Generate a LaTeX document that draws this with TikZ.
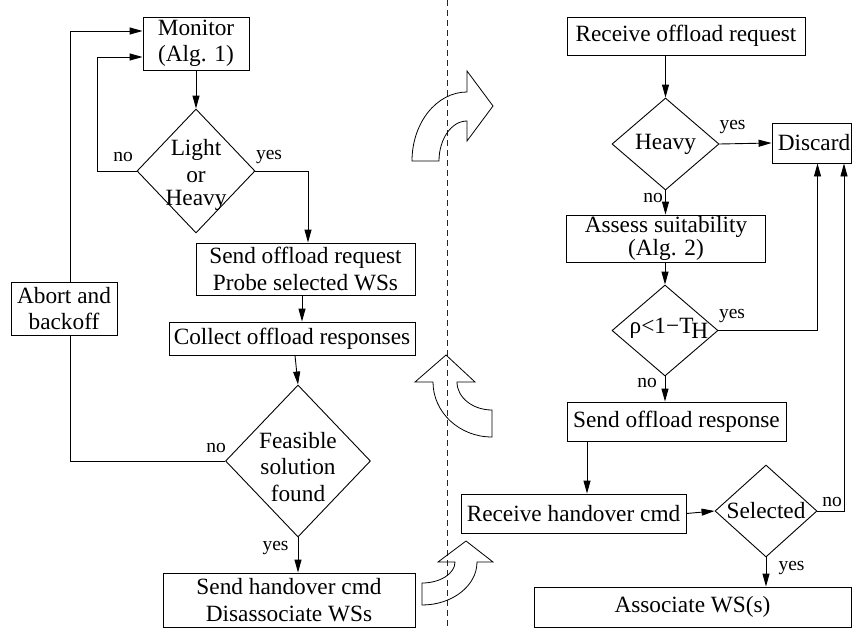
\documentclass[tikz,border=0pt]{standalone}
\usepackage{fontspec}
\setmainfont{Liberation Serif}
\usetikzlibrary{shapes.geometric,arrows.meta}
\begin{document}
\begin{tikzpicture}[x=1pt,y=-1pt,
  every node/.style={font=\fontsize{23.3}{26.5}\selectfont},
  box/.style={draw,fill=white,inner sep=0pt,align=center,line width=0.9pt},
  dia/.style={draw,diamond,inner sep=0pt,line width=0.9pt},
  lab/.style={font=\fontsize{19.5}{22}\selectfont,inner sep=0pt},
  arr/.style={line width=0.9pt,-{Triangle[length=13pt,width=7pt]}},
  ln/.style={line width=0.9pt},
  bigarrow/.style={draw,line width=0.8pt},
  sep/.style={line width=0.8pt,black!85,dash pattern=on 6pt off 4pt}]
\useasboundingbox (0,0) rectangle (852,629);

% separator
\coordinate (sepT) at (447.5,0);
\coordinate (sepB) at (447.5,629);
\draw[sep] (sepT) -- (sepB);

% helper coordinates
\coordinate (lx) at (70,0);
\coordinate (ix) at (97,0);
\coordinate (cx) at (587,0);

% ---------- left side ----------
\node[box,minimum width=106pt,minimum height=53pt] (monitor) at (196,43.5) {Monitor\\(Alg. 1)};
\node[dia,minimum width=118pt,minimum height=124pt,
      label={[align=center,yshift=-4pt]center:Light\\or\\[-3pt]Heavy}] (light) at (196,171) {};
\node[box,minimum width=219pt,minimum height=52pt] (sendreq) at (305.5,269) {Send offload request\\Probe selected WSs};
\node[box,minimum width=246pt,minimum height=33pt] (collect) at (292,338.5) {Collect offload responses};
\node[box,minimum width=106pt,minimum height=53pt] (abort) at (64,308.5) {Abort and\\backoff};
\node[dia,minimum width=145pt,minimum height=152pt,
      label={[align=center,yshift=-6pt]center:Feasible\\solution\\found}] (feasible) at (298,461) {};
\node[box,minimum width=252pt,minimum height=54pt] (handover) at (289,600) {Send handover cmd\\Disassociate WSs};

\draw[arr] (monitor.south) -- (light.north);
\draw[arr] (light.west) -- (ix |- light.west) |- ([yshift=-13.5pt]monitor.west);
\draw[arr] (light.east) -| ([xshift=2.5pt]sendreq.north);
\draw[arr] ([xshift=-3.5pt]sendreq.south) -- ([xshift=-3.5pt]sendreq.south |- collect.north);
\draw[arr] ([xshift=3pt]collect.south) -- (feasible.north);
\draw[ln] (feasible.west) -- (lx |- feasible.west) -- (lx |- abort.south);
\draw[arr] (lx |- abort.north) |- ([yshift=12.5pt]monitor.west);
\draw[arr] (feasible.south) -- (feasible.south |- handover.north);

\node[lab] (l1) at (123,157) {no};
\node[lab] (l2) at (269,157) {yes};
\node[lab] (l3) at (216,448) {no};
\node[lab] (l4) at (275.5,548) {yes};

% ---------- right side ----------
\node[box,minimum width=238pt,minimum height=38pt] (recvreq) at (686,36) {Receive offload request};
\node[dia,minimum width=107pt,minimum height=92pt,label={center:Heavy}] (heavy) at (665.5,144) {};
\node[box,minimum width=79pt,minimum height=40pt] (discard) at (811.5,143) {\hspace*{5pt}Discard};
\node[box,minimum width=199pt,minimum height=47pt] (assess) at (666,238.5) {Assess suitability\\[-3pt](Alg. 2)};
\node[dia,minimum width=106pt,minimum height=91pt,
      label={[xshift=4pt,yshift=2pt]center:ρ<1−T\kern-2pt\raisebox{-5pt}{H}}] (rho) at (665,330.5) {};
\node[box,minimum width=219pt,minimum height=39pt] (sendresp) at (676.5,421.5) {Send offload response};
\node[box,minimum width=225pt,minimum height=39pt] (recvho) at (573.5,513.5) {Receive handover cmd};
\node[dia,minimum width=102pt,minimum height=92pt,label={center:Selected}] (selected) at (766,511) {};
\node[box,minimum width=317pt,minimum height=40pt] (assoc) at (692.5,607) {Associate WS(s)};

\coordinate (dx1) at (817.5,0);
\coordinate (dx2) at (844,0);

\draw[arr] (heavy.north |- recvreq.south) -- (heavy.north);
\draw[arr] (heavy.east) -- (discard.west);
\draw[arr] (heavy.south) -- (heavy.south |- assess.north);
\draw[arr] (rho.north |- assess.south) -- (rho.north);
\draw[arr] (rho.east) -- (dx1 |- rho.east) -- (dx1 |- discard.south);
\draw[arr] (rho.south) -- (rho.south |- sendresp.north);
\draw[arr] (cx |- sendresp.south) -- (cx |- recvho.north);
\draw[arr] (recvho.east) -- (selected.west);
\draw[arr] (selected.east) -- (dx2 |- selected.east) -- (dx2 |- discard.south);
\draw[arr] (selected.south) -- (selected.south |- assoc.north);

\node[lab] (r1) at (732.5,127) {yes};
\node[lab] (r2) at (653,198) {no};
\node[lab] (r3) at (732,316) {yes};
\node[lab] (r4) at (647,383) {no};
\node[lab] (r5) at (832,502) {no};
\node[lab] (r6) at (791.5,568) {yes};

% ---------- curved block arrows ----------
\draw[bigarrow] (412,161) .. controls (412,122.9) and (436.6,92) .. (467,92)
  -- (467,71) -- (493,106) -- (467,141) -- (467,121)
  .. controls (451.5,121) and (439,138.9) .. (439,161) -- cycle;
\draw[bigarrow] (492,437) .. controls (459.4,437) and (433,412.4) .. (433,382)
  -- (415,382) -- (446,355) -- (475,382) -- (457,382)
  .. controls (457,397.5) and (472.7,410) .. (492,410) -- cycle;
\draw[bigarrow] (422,583) .. controls (440.2,583) and (455,573.6) .. (455,562)
  -- (438,562) -- (466,541) -- (493,562) -- (477,562)
  .. controls (477,585.7) and (452.4,605) .. (422,605) -- cycle;
\end{tikzpicture}
\end{document}
